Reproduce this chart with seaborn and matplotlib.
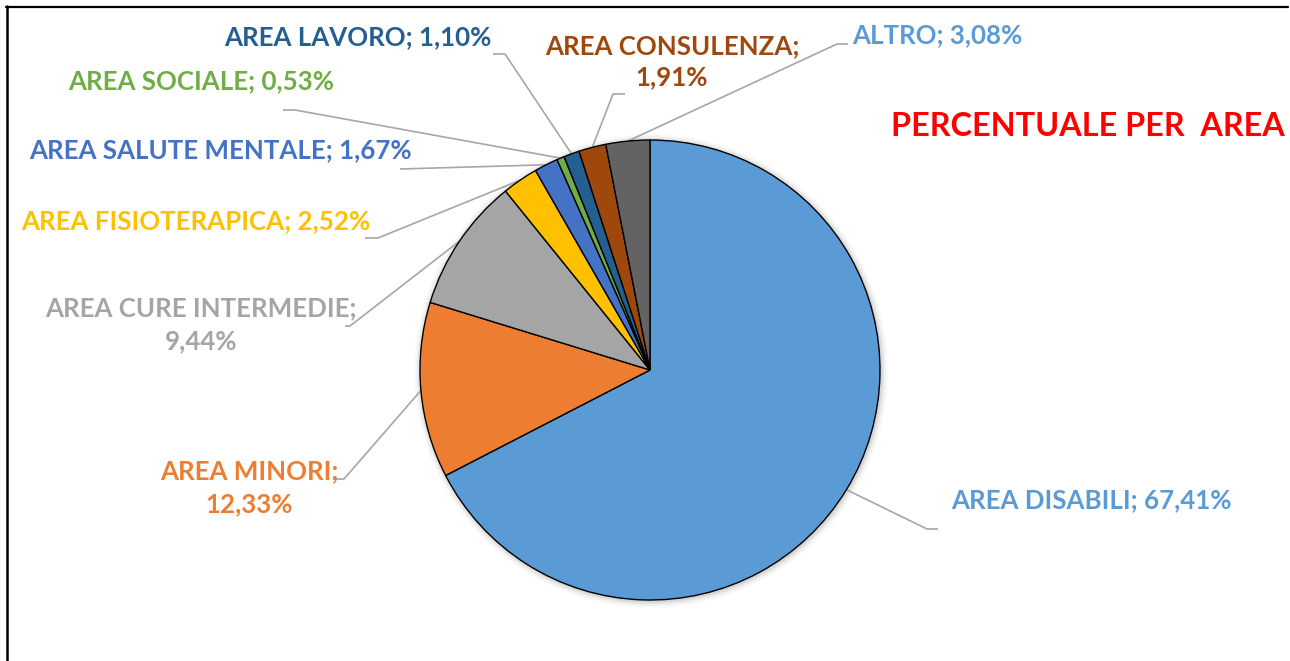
import numpy as np
import matplotlib
matplotlib.use("Agg")
import matplotlib.pyplot as plt
from matplotlib.lines import Line2D
import seaborn as sns

# ---- data ----
categories = ["AREA DISABILI", "AREA MINORI", "AREA CURE INTERMEDIE", "AREA FISIOTERAPICA",
              "AREA SALUTE MENTALE", "AREA SOCIALE", "AREA LAVORO", "AREA CONSULENZA", "ALTRO"]
values = [67.41, 12.33, 9.44, 2.52, 1.67, 0.53, 1.10, 1.91, 3.08]
value_labels = ["67,41%", "12,33%", "9,44%", "2,52%", "1,67%", "0,53%", "1,10%", "1,91%", "3,08%"]
slice_colors = ["#5B9BD5", "#ED7D31", "#A5A5A5", "#FFC000", "#4472C4",
                "#70AD47", "#255E91", "#9E480E", "#636363"]
label_colors = ["#5B9BD5", "#ED7D31", "#A5A5A5", "#FFC000", "#4472C4",
                "#70AD47", "#255E91", "#9E480E", "#5B9BD5"]
title_text = "PERCENTUALE PER  AREA"

# ---- layout (pixel coords, y from top) ----
W, H = 1290, 661
cx, cy, R = 650, 370, 230
# label centre, whether the value wraps to a second line
label_pos = [(1091, 500), (249, 488), (201, 325), (196, 221), (220, 150),
             (201, 81), (358, 37), (672, 61.5), (937, 35)]
wrap = [False, True, True, False, False, False, False, True, False]
line_sp = [1.2, 1.45, 1.45, 1.2, 1.2, 1.2, 1.2, 1.33, 1.2]
# leader line: elbow point and end point near the label
leader_elbow = [(927, 529), (344, 479), (350, 326), (378, 238), (400, 169),
                (295, 110), (505, 54), (613, 94), (837, 44)]
leader_end = [(938, 529), (333, 479), (345, 326), (365, 238), (400, 169),
              (283, 110), (493, 54), (625, 94), (848, 44)]

sns.set_theme(style="white")
plt.rcParams["font.family"] = ["Lato", "DejaVu Sans"]

palette = sns.color_palette(slice_colors)

fig = plt.figure(figsize=(W / 100, H / 100), dpi=100)
fig.patch.set_facecolor("white")
ax = fig.add_axes([0, 0, 1, 1])

def Y(y):
    return H - y

# soft shadow around the pie
for i, a in enumerate([0.06, 0.045, 0.03, 0.02, 0.012]):
    ax.add_patch(plt.Circle((cx + 1, Y(cy) - 1), R + 1.5 * (i + 1), color="black",
                            alpha=a, lw=0, zorder=0))

wedges, _ = ax.pie(values, colors=palette, startangle=90, counterclock=False,
                   center=(cx, Y(cy)), radius=R,
                   wedgeprops=dict(edgecolor="black", linewidth=1.0),
                   normalize=True)
for w in wedges:
    w.set_zorder(2)

total = sum(values)
cum = 0.0
for i, v in enumerate(values):
    mid = (cum + v / 2) / total * 360.0  # clockwise from top
    cum += v
    px = cx + R * np.sin(np.radians(mid))
    py = cy - R * np.cos(np.radians(mid))
    ex, ey = leader_elbow[i]
    tx, ty = leader_end[i]
    ax.plot([px, ex, tx], [Y(py), Y(ey), Y(ty)], color="#A6A6A6", lw=1.2,
            solid_capstyle="butt", zorder=1)
    sep = "\n" if wrap[i] else " "
    txt = f"{categories[i]};{sep}{value_labels[i]}"
    lx, ly = label_pos[i]
    ax.text(lx, Y(ly), txt, color=label_colors[i], fontsize=18.6, fontweight="bold",
            ha="center", va="center", multialignment="center", linespacing=line_sp[i],
            zorder=3)

ax.text(1088, Y(127), title_text, color="#FF0000", fontsize=23.3, fontweight="bold",
        ha="center", va="center", zorder=3)

ax.set_xlim(0, W)
ax.set_ylim(0, H)
ax.set_aspect("equal", adjustable="box")
ax.axis("off")

# frame lines (left and top)
fig.add_artist(Line2D([7 / W, 7 / W], [0, Y(6) / H], color="black", lw=1.8,
                      transform=fig.transFigure))
fig.add_artist(Line2D([6 / W, 1288 / W], [Y(6.5) / H, Y(6.5) / H], color="black", lw=1.6,
                      transform=fig.transFigure))

fig.savefig("out.png", dpi=100, facecolor="white")
